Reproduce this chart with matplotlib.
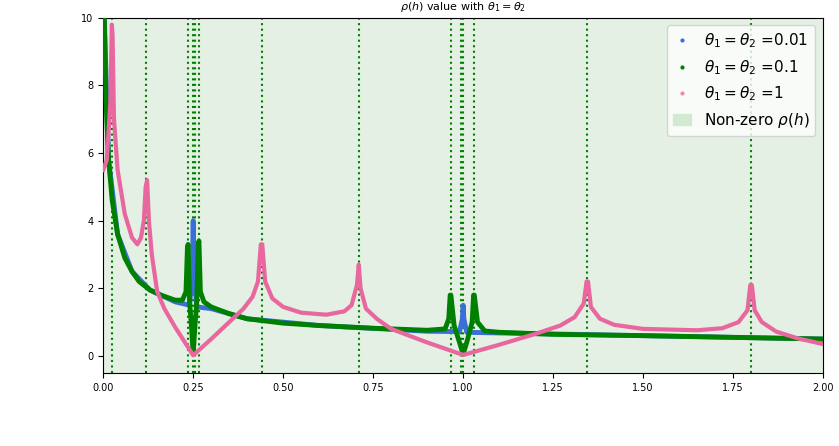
import matplotlib
matplotlib.use("Agg")
import matplotlib.pyplot as plt
from matplotlib.lines import Line2D
from matplotlib.patches import Patch

# theta = 0.1 (green)
x_g = [0.003,0.008,0.015,0.025,0.04,0.06,0.08,0.1,0.13,0.16,0.2,0.22,0.23,0.234,0.236,0.24,0.245,0.25,0.255,0.26,0.264,0.266,0.27,0.28,0.3,0.35,0.4,0.5,0.6,0.75,0.9,0.95,0.96,0.964,0.966,0.975,0.99,1.0,1.01,1.025,1.029,1.031,1.04,1.06,1.1,1.25,1.5,1.75,2.0]
y_g = [10,7.5,5.8,4.6,3.6,2.9,2.5,2.2,1.95,1.8,1.65,1.65,1.9,3.2,3.3,1.6,0.9,0.05,0.9,1.6,3.3,3.4,1.9,1.6,1.45,1.25,1.1,0.97,0.9,0.82,0.76,0.8,1.1,1.8,1.8,0.9,0.4,0.05,0.4,1.0,1.8,1.8,1.0,0.74,0.7,0.64,0.6,0.55,0.5]
# theta = 0.01 (blue)
x_b = [0.003,0.015,0.04,0.08,0.13,0.2,0.24,0.248,0.25,0.252,0.26,0.3,0.4,0.6,0.9,0.99,0.998,1.0,1.002,1.01,1.1,1.5,2.0]
y_b = [10,5.8,3.6,2.5,1.95,1.6,1.5,2.5,4.0,2.5,1.45,1.4,1.1,0.9,0.73,0.72,1.1,1.5,1.1,0.7,0.68,0.6,0.5]
# theta = 1 (pink)
x_p = [0.0,0.01,0.02,0.024,0.026,0.03,0.04,0.06,0.08,0.095,0.105,0.113,0.118,0.122,0.127,0.135,0.15,0.17,0.2,0.25,0.3,0.35,0.39,0.415,0.43,0.438,0.442,0.45,0.47,0.5,0.55,0.62,0.67,0.69,0.705,0.71,0.715,0.73,0.76,0.8,0.9,1.0,1.1,1.2,1.27,1.31,1.335,1.343,1.347,1.355,1.38,1.42,1.5,1.65,1.72,1.765,1.79,1.798,1.802,1.81,1.83,1.87,1.93,2.0]
y_p = [5.5,5.8,7.5,9.8,9.5,7.0,5.5,4.2,3.5,3.3,3.5,4.0,5.0,5.2,4.0,3.0,1.9,1.4,0.85,0.02,0.5,1.0,1.4,1.75,2.2,3.3,3.3,2.2,1.7,1.45,1.28,1.22,1.32,1.5,2.1,2.7,2.0,1.4,1.1,0.8,0.4,0.03,0.33,0.65,0.9,1.15,1.55,2.2,2.2,1.45,1.1,0.92,0.8,0.76,0.82,1.0,1.35,2.1,2.1,1.35,1.0,0.72,0.52,0.35]
vlines = [0.025,0.12,0.235,0.25,0.255,0.265,0.44,0.71,0.965,0.995,1.0,1.03,1.345,1.8]

fig = plt.figure(figsize=(8.39,4.46), dpi=100)
ax = fig.add_axes([0.123,0.164,0.858,0.796])
ax.axvspan(0,2,color="#e4f0e3",zorder=0)
for v in vlines:
    ax.axvline(v,color="green",ls=":",lw=1.5,zorder=1)
ax.plot(x_b,y_b,color="#3a6fd8",lw=3.5,zorder=2)
ax.plot(x_g,y_g,color="green",lw=3.5,zorder=3)
ax.plot(x_p,y_p,color="#e8679f",lw=3,zorder=4)
ax.set_xlim(0,2); ax.set_ylim(-0.5,10)
ax.set_xticks([0,0.25,0.5,0.75,1,1.25,1.5,1.75,2])
ax.set_xticklabels(["0.00","0.25","0.50","0.75","1.00","1.25","1.50","1.75","2.00"])
ax.tick_params(labelsize=7)
ax.set_title(r"$\rho(h)$ value with $\theta_1=\theta_2$",fontsize=8)
handles=[Line2D([],[],ls="",marker="o",ms=2,color="#3a6fd8"),
         Line2D([],[],ls="",marker="o",ms=2,color="green"),
         Line2D([],[],ls="",marker="o",ms=2,color="#f28aa8"),
         Patch(color="#d2ead2")]
ax.legend(handles,[r"$\theta_1=\theta_2$ =0.01",r"$\theta_1=\theta_2$ =0.1",r"$\theta_1=\theta_2$ =1",r"Non-zero $\rho(h)$"],
          loc="upper right",fontsize=11,handlelength=1.2)
fig.savefig("out.png",dpi=100)
